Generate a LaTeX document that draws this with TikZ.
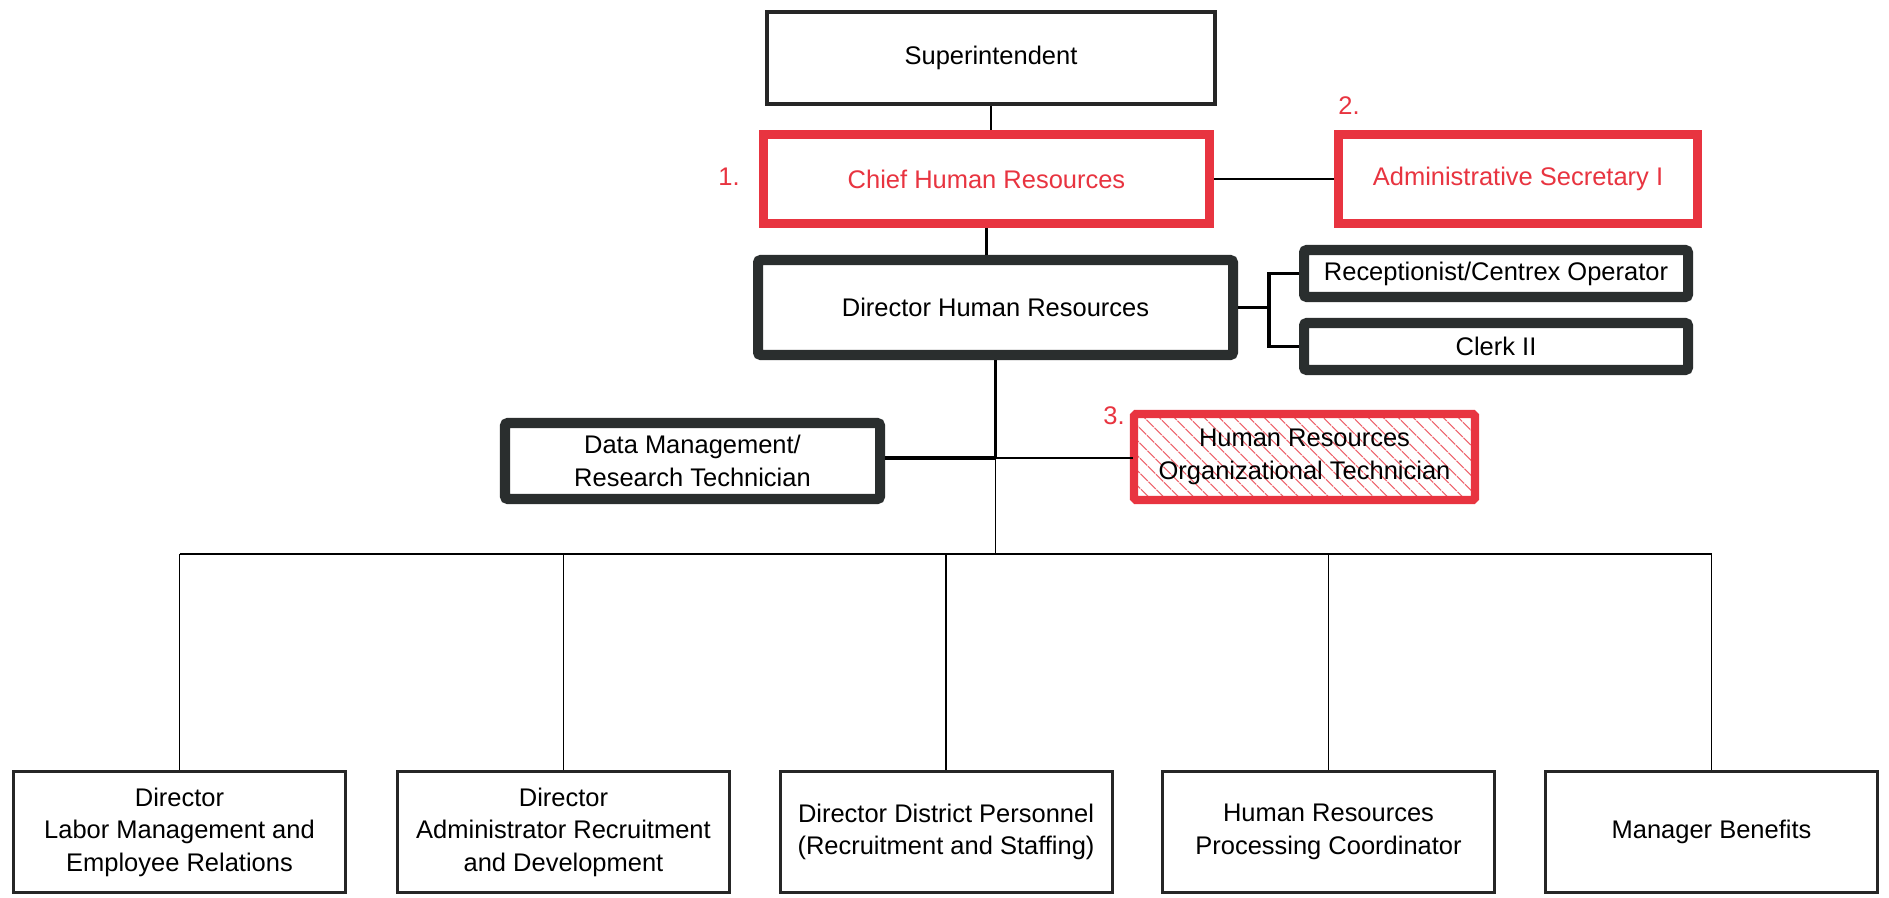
\documentclass[tikz,border=0pt]{standalone}
\usepackage{fontspec}
\setmainfont{Liberation Sans}
\usepackage{xcolor}
\usepackage{tikz}
\usetikzlibrary{patterns.meta}

\definecolor{hrred}{RGB}{232,52,64}
\definecolor{boxgray}{RGB}{42,46,46}

\begin{document}
\begin{tikzpicture}[
  every node/.style={font=\fontsize{14.5}{18.5}\selectfont, inner sep=0pt},
  plainbox/.style={draw=black!85, line width=2.2pt, fill=white},
  redbox/.style={draw=hrred, line width=5.1pt, fill=white, text=hrred},
  darkbox/.style={draw=boxgray, line width=5.7pt, rounded corners=1.5pt, fill=white, align=center},
  hatchbox/.style={draw=hrred, line width=4.6pt, rounded corners=1pt, preaction={fill=white},
    pattern={Lines[angle=-45, distance=6.5pt, line width=0.7pt]}, pattern color=hrred!75, align=center},
  lowbox/.style={draw=black!85, line width=1.7pt, fill=white, align=center,
    minimum width=6.64cm, minimum height=2.42cm},
  numlabel/.style={text=hrred}
]
\useasboundingbox[fill=white] (0,0) rectangle (37.78,17.94);

% top of the chart
\node[plainbox, minimum width=8.96cm, minimum height=1.84cm] (sup) at (19.82,16.78) {Superintendent};
\node[redbox, minimum width=8.92cm, minimum height=1.78cm] (chief) at (19.73,14.36) {Chief Human Resources};
\node[redbox, minimum width=7.18cm, minimum height=1.78cm] (admin) at (30.36,14.36) {Administrative Secretary I};
\node[darkbox, minimum width=9.5cm, minimum height=1.9cm] (dirhr) at (19.91,11.79) {Director Human Resources};
\node[darkbox, minimum width=7.68cm, minimum height=0.94cm] (recep) at (29.92,12.47) {Receptionist/Centrex Operator};
\node[darkbox, minimum width=7.68cm, minimum height=0.94cm] (clerk) at (29.92,11.01) {Clerk II};
\node[darkbox, minimum width=7.5cm, minimum height=1.52cm] (datatech) at (13.85,8.72) {Data Management/\\Research Technician};
\node[hatchbox, minimum width=6.82cm, minimum height=1.72cm] (orgtech) at (26.09,8.8) {Human Resources\\Organizational Technician};

\node[numlabel] (n1) at (14.58,14.4) {1.};
\node[numlabel] (n2) at (26.98,15.82) {2.};
\node[numlabel] (n3) at (22.28,9.62) {3.};

% bottom row
\node[lowbox] (labor) at (3.59,1.30) {Director\\Labor Management and\\Employee Relations};
\node[lowbox] (recruit) at (11.27,1.30) {Director\\Administrator Recruitment\\and Development};
\node[lowbox] (district) at (18.92,1.30) {Director District Personnel\\(Recruitment and Staffing)};
\node[lowbox] (process) at (26.57,1.30) {Human Resources\\Processing Coordinator};
\node[lowbox] (benefits) at (34.23,1.30) {Manager Benefits};

\coordinate (fork) at (25.38,11.79);
\coordinate (split) at (19.91,8.78);
\coordinate (bus) at (19.91,6.86);

\draw[line width=1.6pt] (sup.south) -- (sup.south |- chief.north);
\draw[line width=1.6pt] (chief.south) -- (chief.south |- dirhr.north);
\draw[line width=0.8pt] (chief.east) -- (admin.west);
\draw[line width=2pt] (dirhr.east) -- (fork);
\draw[line width=2pt] (recep.west) -| (fork) |- (clerk.west);

\draw[line width=1.6pt] (dirhr.south) -- (split);
\draw[line width=2.6pt] (split -| datatech.east) -- (split);
\draw[line width=0.8pt] (split) -- (split -| orgtech.west);
\draw[line width=0.9pt] (split) -- (bus);

\draw[line width=1pt] (labor.north |- bus) -- (benefits.north |- bus);
\foreach \n in {labor,recruit,district,process,benefits}
  \draw[line width=0.8pt] (\n.north) -- (\n.north |- bus);
\end{tikzpicture}
\end{document}
